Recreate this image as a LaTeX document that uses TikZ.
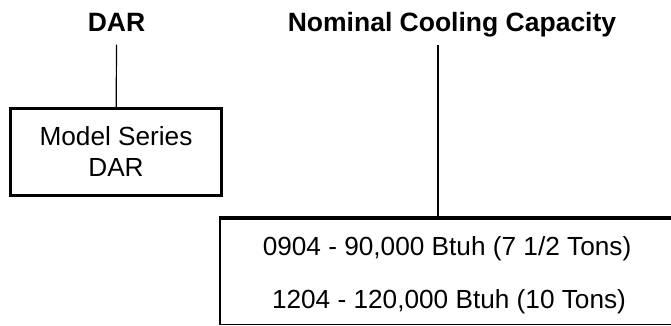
\documentclass[tikz,border=0pt]{standalone}
\usepackage{fontspec}
\setmainfont{Liberation Sans}
\usetikzlibrary{positioning}

\begin{document}
\begin{tikzpicture}[x=1pt, y=-1pt, line width=1.2pt,
  heading/.style={font=\fontsize{26.5}{31}\selectfont\bfseries, inner sep=0pt, anchor=base},
  entry/.style={font=\fontsize{26.2}{31}\selectfont, inner sep=0pt, anchor=base}]
  \useasboundingbox (0,0) rectangle (671,325);

  \node[heading] (dar)     at (116.5,31) {DAR};
  \node[heading] (nominal) at (452,31) {Nominal Cooling Capacity};

  \node[draw, line width=2.5pt, minimum width=211pt, minimum height=87pt, align=center,
        font=\fontsize{26.2}{31}\selectfont] (series) at (116,152) {Model Series\\DAR};

  \node[minimum width=452pt, minimum height=105pt] (capbox) at (446.5,271.5) {};
  \node[entry] (cap1) at (447,255) {0904 - 90,000 Btuh (7 1/2 Tons)};
  \node[entry] (cap2) at (449,308) {1204 - 120,000 Btuh (10 Tons)};
  \draw[line width=4pt] ([xshift=-1.25pt]capbox.north west) -- (capbox.north east);
  \draw[line width=2.5pt] (capbox.north west) -- (capbox.south west);
  \draw (capbox.south west) -- (capbox.south east);

  \coordinate (nomfoot) at (438,45);
  \draw ([yshift=-13pt]dar.south) -- (series);
  \draw (nomfoot) -- (nomfoot |- capbox.north);
\end{tikzpicture}
\end{document}
